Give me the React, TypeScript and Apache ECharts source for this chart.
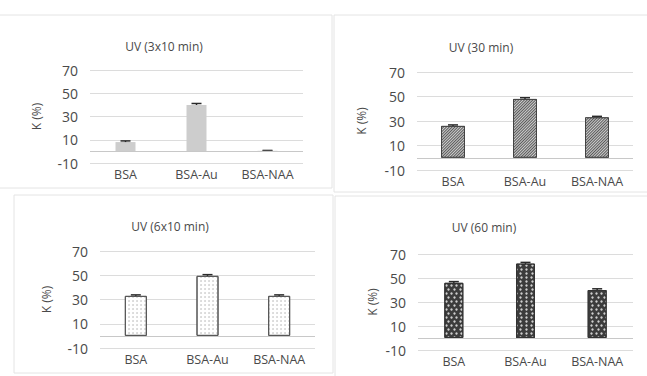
import React, { useEffect, useRef } from "react";
import * as echarts from "echarts";

const categories = ["BSA", "BSA-Au", "BSA-NAA"];
const titles = ["UV (3x10 min)", "UV (30 min)", "UV (6x10 min)", "UV (60 min)"];
const yTicks = [-10, 10, 30, 50, 70];
const uv3x10 = [8, 40, 0.5];
const uv30 = [26, 48, 33];
const uv6x10 = [33, 49.5, 33];
const uv60 = [46, 62, 40];
const err3x10 = [1, 1.2, 0.3];
const err30 = [0.8, 1, 0.8];
const err6x10 = [0.8, 1, 0.8];
const err60 = [1, 1, 1];

const values = [uv3x10, uv30, uv6x10, uv60];
const errors = [err3x10, err30, err6x10, err60];

const grids = [
  { left: 90, top: 70, width: 213, height: 93 },
  { left: 417, top: 72, width: 216, height: 98 },
  { left: 100, top: 251, width: 215, height: 97 },
  { left: 418, top: 254, width: 215, height: 96 },
];
const titlePos = [
  { x: 159, y: 35 },
  { x: 476, y: 36 },
  { x: 165, y: 215 },
  { x: 479, y: 216 },
];
const nameGaps = [48, 50, 48, 40];
const barWidths = [20, 24, 22, 19];

const barStyles: any[] = [
  { color: "#cdcdcd" },
  {
    color: "#5a5a5a",
    borderColor: "#444",
    borderWidth: 1,
    decal: {
      symbol: "rect",
      color: "rgba(255,255,255,0.7)",
      dashArrayX: [1, 0],
      dashArrayY: [1, 1],
      rotation: -Math.PI / 4,
    },
  },
  {
    color: "#ffffff",
    borderColor: "#555",
    borderWidth: 1,
    decal: {
      symbol: "circle",
      symbolSize: 0.6,
      color: "#9a9a9a",
      dashArrayX: [2, 2],
      dashArrayY: [2, 2],
      rotation: 0,
    },
  },
  {
    color: "#3c3c3c",
    borderColor: "#333",
    borderWidth: 1,
    decal: {
      symbol: "circle",
      symbolSize: 0.8,
      color: "rgba(255,255,255,0.75)",
      dashArrayX: [[3, 2], [0, 2.5, 3, 0]],
      dashArrayY: [3, 1],
      rotation: 0,
    },
  },
];

export default function App() {
  const ref = useRef<HTMLDivElement>(null);
  useEffect(() => {
    if (!ref.current) return;
    const chart = echarts.init(ref.current, null, { renderer: "svg" });
    const font = "'Open Sans', 'Noto Sans', sans-serif";
    const txt = "#4a4a4a";
    const option: any = {
      animation: false,
      backgroundColor: "#ffffff",
      title: titles.map((t, i) => ({
        text: t,
        left: titlePos[i].x,
        top: titlePos[i].y,
        textAlign: "center",
        textStyle: { fontSize: 12, fontWeight: "normal", color: txt, fontFamily: font },
      })),
      grid: grids.map((g) => ({ ...g, containLabel: false })),
      xAxis: grids.map((_, i) => ({
        type: "category",
        gridIndex: i,
        data: categories,
        axisLine: { show: false },
        axisTick: { show: false },
        axisLabel: { fontSize: 12.5, color: txt, margin: 5, fontFamily: font },
      })),
      yAxis: grids.map((_, i) => ({
        type: "value",
        gridIndex: i,
        min: -10,
        max: 70,
        interval: 20,
        name: "K (%)",
        nameLocation: "middle",
        nameGap: nameGaps[i],
        nameRotate: 90,
        nameTextStyle: { fontSize: 12, color: txt, fontFamily: font },
        axisLine: { show: false },
        axisTick: { show: false },
        axisLabel: {
          fontSize: 14,
          color: txt,
          margin: 12,
          fontFamily: font,
          formatter: (v: number) => (yTicks.includes(v) ? String(v) : ""),
        },
        splitLine: { lineStyle: { color: "#dcdcdc", width: 1 } },
      })),
      series: [
        ...values.map((vals, i) => ({
          type: "bar",
          xAxisIndex: i,
          yAxisIndex: i,
          data: vals,
          barWidth: barWidths[i],
          itemStyle: barStyles[i],
          markLine: {
            silent: true,
            symbol: "none",
            label: { show: false },
            lineStyle: { color: "#c8c8c8", type: "solid", width: 1 },
            data: [{ yAxis: 0 }],
          },
        })),
        ...values.map((vals, i) => ({
          type: "custom",
          xAxisIndex: i,
          yAxisIndex: i,
          data: vals.map((v, j) => [j, v, errors[i][j]]),
          renderItem: (params: any, api: any) => {
            const x = api.value(0);
            const v = api.value(1);
            const e = api.value(2);
            const hi = api.coord([x, v + e]);
            const lo = api.coord([x, v - e]);
            const hw = 5;
            const st = { stroke: "#2a2a2a", lineWidth: 1.5 };
            return {
              type: "group",
              children: [
                { type: "line", shape: { x1: hi[0], y1: hi[1], x2: lo[0], y2: lo[1] }, style: st },
                { type: "line", shape: { x1: hi[0] - hw, y1: hi[1], x2: hi[0] + hw, y2: hi[1] }, style: st },
                { type: "line", shape: { x1: lo[0] - hw, y1: lo[1], x2: lo[0] + hw, y2: lo[1] }, style: st },
              ],
            };
          },
        })),
      ],
      graphic: [
        { type: "rect", shape: { x: -1, y: 15, width: 333, height: 173 }, style: { fill: "none", stroke: "#e4e4e4", lineWidth: 1 } },
        { type: "rect", shape: { x: 334, y: 15, width: 320, height: 177 }, style: { fill: "none", stroke: "#e4e4e4", lineWidth: 1 } },
        { type: "rect", shape: { x: 14, y: 195, width: 319, height: 178 }, style: { fill: "none", stroke: "#e4e4e4", lineWidth: 1 } },
        { type: "rect", shape: { x: 335, y: 196, width: 320, height: 185 }, style: { fill: "none", stroke: "#e4e4e4", lineWidth: 1 } },
      ],
    };
    chart.setOption(option);
    return () => chart.dispose();
  }, []);
  return (
    <div
      ref={ref}
      style={{ position: "fixed", left: 0, top: 0, width: 647, height: 376 }}
    />
  );
}
